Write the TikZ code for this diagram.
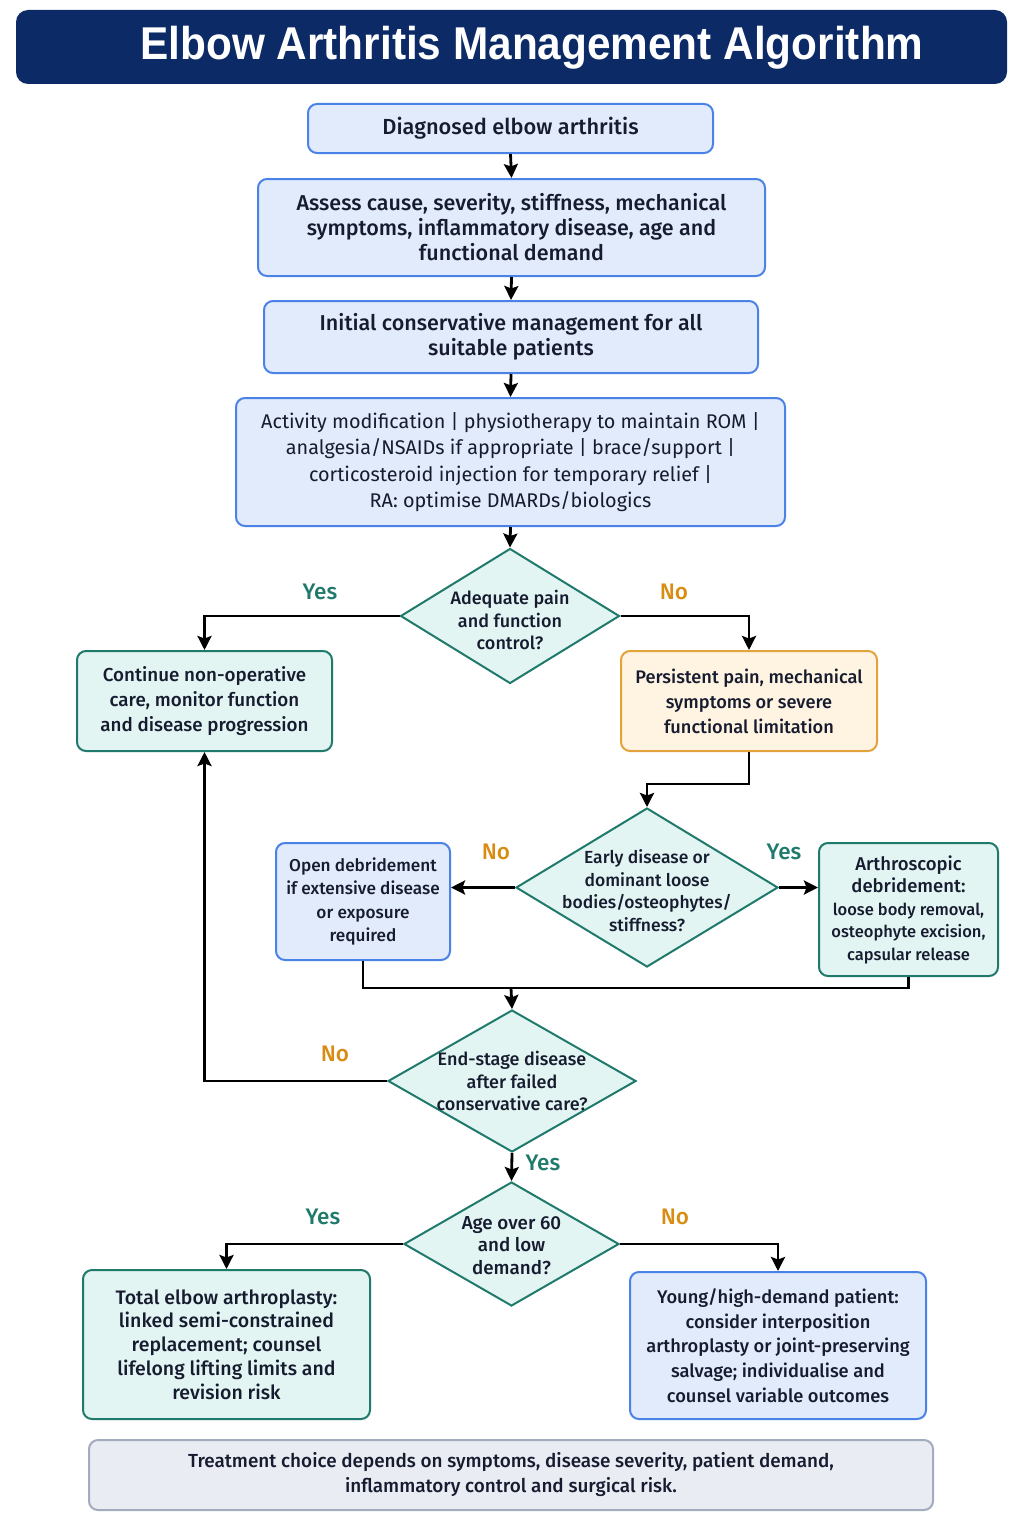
\documentclass[tikz,border=0pt]{standalone}
\usepackage{fontspec}
\setmainfont{Fira Sans}[BoldFont={Fira Sans Medium}]
\newfontfamily\titlefont{Liberation Sans}[FakeStretch=0.92]
\usetikzlibrary{shapes.geometric,arrows.meta}
\definecolor{navy}{HTML}{0C2B66}
\definecolor{ink}{HTML}{161B30}
\definecolor{bluebd}{HTML}{4A82E6}
\definecolor{bluefl}{HTML}{E2EBFC}
\definecolor{tealbd}{HTML}{1F7A6C}
\definecolor{tealfl}{HTML}{E3F5F2}
\definecolor{orangebd}{HTML}{E2A33C}
\definecolor{orangefl}{HTML}{FFF4E1}
\definecolor{graybd}{HTML}{A3ABBE}
\definecolor{grayfl}{HTML}{E9ECF3}
\definecolor{yescol}{HTML}{1F7A6C}
\definecolor{nocol}{HTML}{D88C12}
\tikzset{
  box/.style={draw, rounded corners=9pt, line width=2pt, align=center, inner sep=0pt, text=ink},
  bluebox/.style={box, draw=bluebd, fill=bluefl},
  tealbox/.style={box, draw=tealbd, fill=tealfl},
  orangebox/.style={box, draw=orangebd, fill=orangefl},
  graybox/.style={box, draw=graybd, fill=grayfl},
  dia/.style={diamond, draw=tealbd, fill=tealfl, line width=2pt, inner sep=0pt},
  diatext/.style={align=center, text=ink, inner sep=0pt, font=\bfseries\fontsize{18}{22.5}\selectfont},
  line/.style={line width=2.8pt, draw=black},
  arr/.style={line, -{Stealth[length=14pt,width=14pt,inset=2.5pt]}},
  yeslab/.style={text=yescol, font=\bfseries\fontsize{22.5}{26}\selectfont},
  nolab/.style={text=nocol, font=\bfseries\fontsize{22.5}{26}\selectfont},
}
\begin{document}
\begin{tikzpicture}[x=1pt,y=-1pt]
\useasboundingbox (0,0) rectangle (1024,1536);
\fill[white] (0,0) rectangle (1024,1536);

% title
\node[fill=navy, rounded corners=12pt, minimum width=991pt, minimum height=74pt, inner sep=0pt] (tbar) at (511.5,47) {};
\node[text=white, font=\titlefont\bfseries\fontsize{46}{52}\selectfont] (ttext) at (532,48) {Elbow Arthritis Management Algorithm};

% boxes
\node[bluebox, minimum width=405pt, minimum height=49pt, font=\bfseries\fontsize{21.8}{25}\selectfont] (n1) at (510.5,128.5) {Diagnosed elbow arthritis};
\node[bluebox, minimum width=507pt, minimum height=97pt, font=\bfseries\fontsize{21.5}{25}\selectfont] (n2) at (511.5,227.5) {Assess cause, severity, stiffness, mechanical\\symptoms, inflammatory disease, age and\\functional demand};
\node[bluebox, minimum width=494pt, minimum height=72pt, font=\bfseries\fontsize{21.5}{25}\selectfont] (n3) at (511,337) {Initial conservative management for all\\suitable patients};
\node[bluebox, minimum width=549pt, minimum height=128pt, font=\fontsize{19.8}{26.5}\selectfont] (n4) at (510.5,462) {Activity modification | physiotherapy to maintain ROM |\\analgesia/NSAIDs if appropriate | brace/support |\\corticosteroid injection for temporary relief |\\RA: optimise DMARDs/biologics};

\node[dia, minimum width=219pt, minimum height=135pt] (d1) at (510,616) {};
\node[diatext] (d1t) at ([yshift=-4pt]d1.center) {Adequate pain\\and function\\control?};

\node[tealbox, minimum width=255pt, minimum height=100pt, font=\bfseries\fontsize{18.8}{25}\selectfont] (cont) at (204.5,701) {Continue non-operative\\care, monitor function\\and disease progression};
\node[orangebox, minimum width=256pt, minimum height=100pt, font=\bfseries\fontsize{18.2}{25}\selectfont] (pers) at (749,701) {Persistent pain, mechanical\\symptoms or severe\\functional limitation};

\node[dia, minimum width=262pt, minimum height=159pt] (d2) at (647,887.5) {};
\node[diatext, font=\bfseries\fontsize{17.5}{22.5}\selectfont] (d2t) at ([yshift=-3pt]d2.center) {Early disease or\\dominant loose\\bodies/osteophytes/\\stiffness?};

\node[bluebox, minimum width=174pt, minimum height=117pt, font=\bfseries\fontsize{17.2}{23.5}\selectfont] (open) at (363,901.5) {Open debridement\\if extensive disease\\or exposure\\required};
\node[tealbox, minimum width=179pt, minimum height=133pt, font=\bfseries\fontsize{16.5}{22.5}\selectfont] (arth) at (908.5,909.5) {{\fontsize{18.5}{23}\selectfont Arthroscopic}\\{\fontsize{18.5}{23}\selectfont debridement:}\\loose body removal,\\osteophyte excision,\\capsular release};

\node[dia, minimum width=248pt, minimum height=142pt] (d3) at (512,1081) {};
\node[diatext] (d3t) at (d3.center) {End-stage disease\\after failed\\conservative care?};

\node[dia, minimum width=215pt, minimum height=124pt] (d4) at (511.5,1244) {};
\node[diatext, font=\bfseries\fontsize{18.8}{22.5}\selectfont] (d4t) at ([yshift=-1.5pt]d4.center) {Age over 60\\and low\\demand?};

\node[tealbox, minimum width=287pt, minimum height=149pt, font=\bfseries\fontsize{19.5}{23.75}\selectfont] (tea) at (226.5,1344.5) {Total elbow arthroplasty:\\linked semi-constrained\\replacement; counsel\\lifelong lifting limits and\\revision risk};
\node[bluebox, minimum width=296pt, minimum height=147pt, font=\bfseries\fontsize{18.3}{24.75}\selectfont] (young) at (778,1345.5) {Young/high-demand patient:\\consider interposition\\arthroplasty or joint-preserving\\salvage; individualise and\\counsel variable outcomes};

\node[graybox, minimum width=844pt, minimum height=70pt, font=\bfseries\fontsize{18.9}{25}\selectfont] (foot) at (511,1475) {Treatment choice depends on symptoms, disease severity, patient demand,\\inflammatory control and surgical risk.};

% connectors
\draw[arr] (n1.south) -- (n2.north);
\draw[arr] (n2.south) -- (n3.north);
\draw[arr] (n3.south) -- (n4.north);
\draw[arr] (n4.south) -- (d1.north);
\draw[arr] (d1.west) -| (cont.north);
\draw[arr] (d1.east) -| (pers.north);
\draw[arr] (pers.south) -- ++(0,32) -| (d2.north);
\draw[arr] (d2.west) -- (d2.west -| open.east);
\draw[arr] (d2.east) -- (d2.east -| arth.west);
\coordinate (merge) at (511,988);
\draw[line] (open.south) |- (merge) -| (arth.south);
\draw[arr] (merge) -- (d3.north);
\draw[arr] (d3.west) -| (cont.south);
\draw[arr] (d3.south) -- (d4.north);
\draw[arr] (d4.west) -| (tea.north);
\draw[arr] (d4.east) -| (young.north);

% labels
\node[yeslab] (l1) at (320,592) {Yes};
\node[nolab] (l2) at (674,592) {No};
\node[nolab] (l3) at (496,852) {No};
\node[yeslab] (l4) at (784,852) {Yes};
\node[nolab] (l5) at (335,1054) {No};
\node[yeslab] (l6) at (543,1163) {Yes};
\node[yeslab] (l7) at (323,1217) {Yes};
\node[nolab] (l8) at (675,1217) {No};
\end{tikzpicture}
\end{document}
